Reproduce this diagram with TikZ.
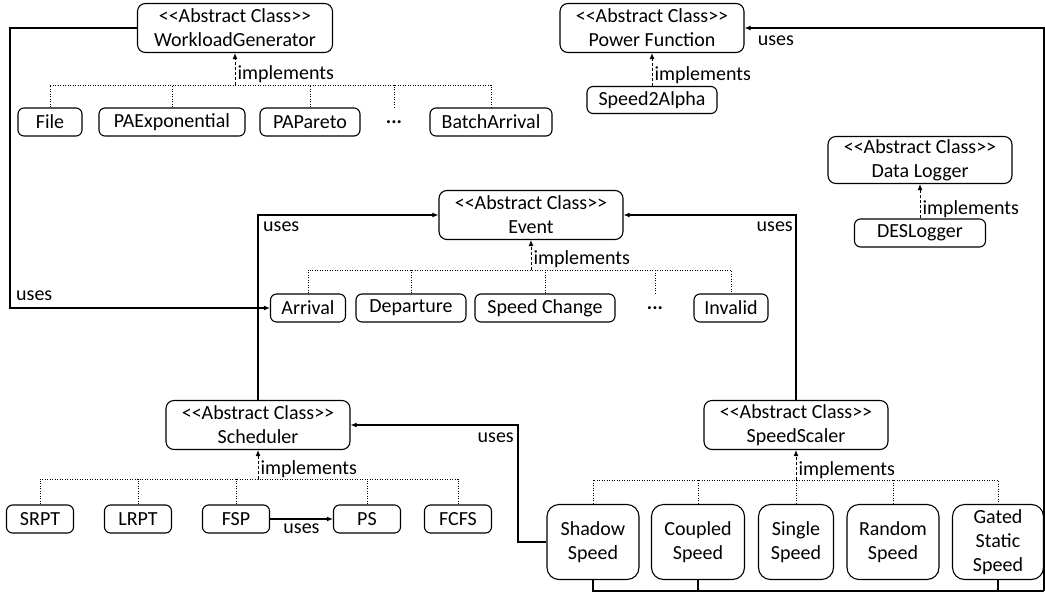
\documentclass[tikz,border=0pt]{standalone}
\usepackage{fontspec}
\setmainfont{Carlito}[Ligatures=TeXOff]
\usetikzlibrary{
  arrows.meta,
  calc,
  positioning
}

\begin{document}
\begin{tikzpicture}[x=1pt, y=-1pt]

\tikzset{
  absclass/.style={
    draw,
    rounded corners=8pt,
    minimum width=184pt,
    minimum height=49pt,
    align=center,
    inner sep=1pt,
    line width=1.1pt,
    font=\fontsize{20}{24}\selectfont
  },
  concrete/.style={
    draw,
    rounded corners=6pt,
    minimum height=28pt,
    inner sep=1pt,
    line width=1.1pt,
    font=\fontsize{20}{24}\selectfont
  },
  speedbox/.style={
    draw,
    rounded corners=12pt,
    minimum width=92pt,
    minimum height=75pt,
    align=center,
    inner sep=1pt,
    line width=1.1pt,
    font=\fontsize{20}{24}\selectfont
  },
  ellip/.style={minimum height=28pt, inner sep=1pt, font=\fontsize{20}{24}\selectfont\bfseries},
  lbl/.style={inner sep=1pt, font=\fontsize{20}{24}\selectfont},
  bus/.style={line width=0.8pt, dash pattern=on 1.2pt off 1.3pt},
  realizes/.style={-{Latex[length=6pt, width=5pt]}, line width=1pt, dash pattern=on 3pt off 2pt},
  uses/.style={-{Latex[length=6pt, width=5pt]}, line width=1.1pt},
  link/.style={line width=1.1pt}
}

\useasboundingbox (0,0) rectangle (1045,595);

% Abstract classes
\node[absclass, minimum width=195pt] (wg)    at (235,28)  {<<Abstract Class>>\\WorkloadGenerator};
\node[absclass]                      (pf)    at (652,28)  {<<Abstract Class>>\\Power Function};
\node[absclass, minimum height=47pt] (dl)    at (920,160) {<<Abstract Class>>\\Data Logger};
\node[absclass]                      (event) at (531,215) {<<Abstract Class>>\\Event};
\node[absclass]                      (sched) at (258,425) {<<Abstract Class>>\\Scheduler};
\node[absclass]                      (ss)    at (796,425) {<<Abstract Class>>\\SpeedScaler};

% Workload generators
\node[concrete, minimum width=64pt]  (file)     at (50,122)  {File};
\node[concrete, minimum width=146pt] (paexp)    at (172,122) {PAExponential};
\node[concrete, minimum width=100pt] (papareto) at (310,122) {PAPareto};
\node[ellip]                         (dots1)    at (394,122) {...};
\node[concrete, minimum width=122pt] (batch)    at (491,122) {BatchArrival};

% Power function and logger
\node[concrete, minimum width=130pt, minimum height=27pt] (s2a)    at (652,100) {Speed2Alpha};
\node[concrete, minimum width=131pt]                      (deslog) at (920,233) {DESLogger};

% Events
\node[concrete, minimum width=75pt]  (arrival)   at (308,308) {Arrival};
\node[concrete, minimum width=110pt] (departure) at (411,308) {Departure};
\node[concrete, minimum width=140pt] (spchange)  at (545,308) {Speed Change};
\node[ellip]                         (dots2)     at (655,308) {...};
\node[concrete, minimum width=74pt]  (invalid)   at (731,308) {Invalid};

% Schedulers
\node[concrete, minimum width=67pt] (srpt) at (40,519)  {SRPT};
\node[concrete, minimum width=67pt] (lrpt) at (138,519) {LRPT};
\node[concrete, minimum width=67pt] (fsp)  at (236,519) {FSP};
\node[concrete, minimum width=67pt] (ps)   at (367,519) {PS};
\node[concrete, minimum width=67pt] (fcfs) at (458,519) {FCFS};

% Speed scalers
\node[speedbox]                     (shadow)  at (593,542) {Shadow\\Speed};
\node[speedbox, minimum width=93pt] (coupled) at (698,542) {Coupled\\Speed};
\node[speedbox, minimum width=75pt] (single)  at (796,542) {Single\\Speed};
\node[speedbox]                     (random)  at (893,542) {Random\\Speed};
\node[speedbox, minimum width=91pt] (gated)   at (998,542) {Gated\\Static\\Speed};

% Bus points
\coordinate (wgbus)    at (235,85);
\coordinate (eventbus) at (531,270);
\coordinate (schedbus) at (258,479);
\coordinate (ssbus)    at (796,480);
\coordinate (lcorner)  at (10,308);
\coordinate (rcorner)  at (1044,591);
\coordinate (skink)    at (518,542);

% Implements WorkloadGenerator
\draw[bus] (file.north) |- (wgbus) -| (batch.north);
\draw[bus] (paexp.north) -- (paexp.north |- wgbus);
\draw[bus] (papareto.north) -- (papareto.north |- wgbus);
\draw[bus] (dots1.north) -- (dots1.north |- wgbus);
\draw[realizes] (wgbus) -- node[lbl, pos=0.35, anchor=west, xshift=1pt] (implwg) {implements} (wg.south);

% Implements Power Function
\draw[realizes] (s2a.north) -- node[lbl, pos=0.32, anchor=west, xshift=1pt] (implpf) {implements} (pf.south);

% Implements Data Logger
\draw[realizes] (deslog.north) -- node[lbl, pos=0.28, anchor=west, xshift=1pt] (impldl) {implements} (dl.south);

% Implements Event
\draw[bus] (arrival.north) |- (eventbus) -| (invalid.north);
\draw[bus] (departure.north) -- (departure.north |- eventbus);
\draw[bus] (spchange.north) -- (spchange.north |- eventbus);
\draw[bus] (dots2.north) -- (dots2.north |- eventbus);
\draw[realizes] (eventbus) -- node[lbl, pos=0.37, anchor=west, xshift=1pt] (implev) {implements} (event.south);

% Implements Scheduler
\draw[bus] (srpt.north) |- (schedbus) -| (fcfs.north);
\draw[bus] (lrpt.north) -- (lrpt.north |- schedbus);
\draw[bus] (fsp.north) -- (fsp.north |- schedbus);
\draw[bus] (ps.north) -- (ps.north |- schedbus);
\draw[realizes] (schedbus) -- node[lbl, pos=0.33, anchor=west, xshift=1pt] (implsc) {implements} (sched.south);

% Implements SpeedScaler
\draw[bus] (shadow.north) |- (ssbus) -| (gated.north);
\draw[bus] (coupled.north) -- (coupled.north |- ssbus);
\draw[bus] (single.north) -- (single.north |- ssbus);
\draw[bus] (random.north) -- (random.north |- ssbus);
\draw[realizes] (ssbus) -- node[lbl, pos=0.32, anchor=west, xshift=1pt] (implss) {implements} (ss.south);

% Uses WorkloadGenerator -> Arrival
\draw[uses] (wg.west) -| (lcorner) -- (arrival.west);
\node[lbl, anchor=south west, xshift=5pt, yshift=6pt] (usesarr) at (lcorner) {uses};

% Uses Scheduler/SpeedScaler -> Event
\draw[uses] (sched.north) |- (event.west);
\draw[uses] (ss.north) |- (event.east);
\node[lbl, anchor=north west, xshift=4pt, yshift=-6pt] (usesevl) at (sched.north |- event.west) {uses};
\node[lbl, anchor=north east, xshift=-2pt, yshift=-6pt] (usesevr) at (ss.north |- event.east) {uses};

% Uses FSP -> PS
\draw[uses] (fsp) -- node[lbl, below, yshift=-3pt] (usesps) {uses} (ps);

% Uses Shadow Speed -> Scheduler
\draw[uses] (shadow.west) -- (skink) |- (sched.east);
\node[lbl, anchor=north east, xshift=-3pt, yshift=-7pt] (usessc) at (skink |- sched.east) {uses};

% Uses speed scalers -> Power Function
\draw[link] (shadow.south) |- (rcorner);
\draw[link] (coupled.south) -- (coupled.south |- rcorner);
\draw[link] (gated.south) -- (gated.south |- rcorner);
\draw[uses] (rcorner) |- (pf.east);
\node[lbl, anchor=north west, xshift=12pt, yshift=-7pt] (usespf) at (pf.east) {uses};

\end{tikzpicture}
\end{document}
